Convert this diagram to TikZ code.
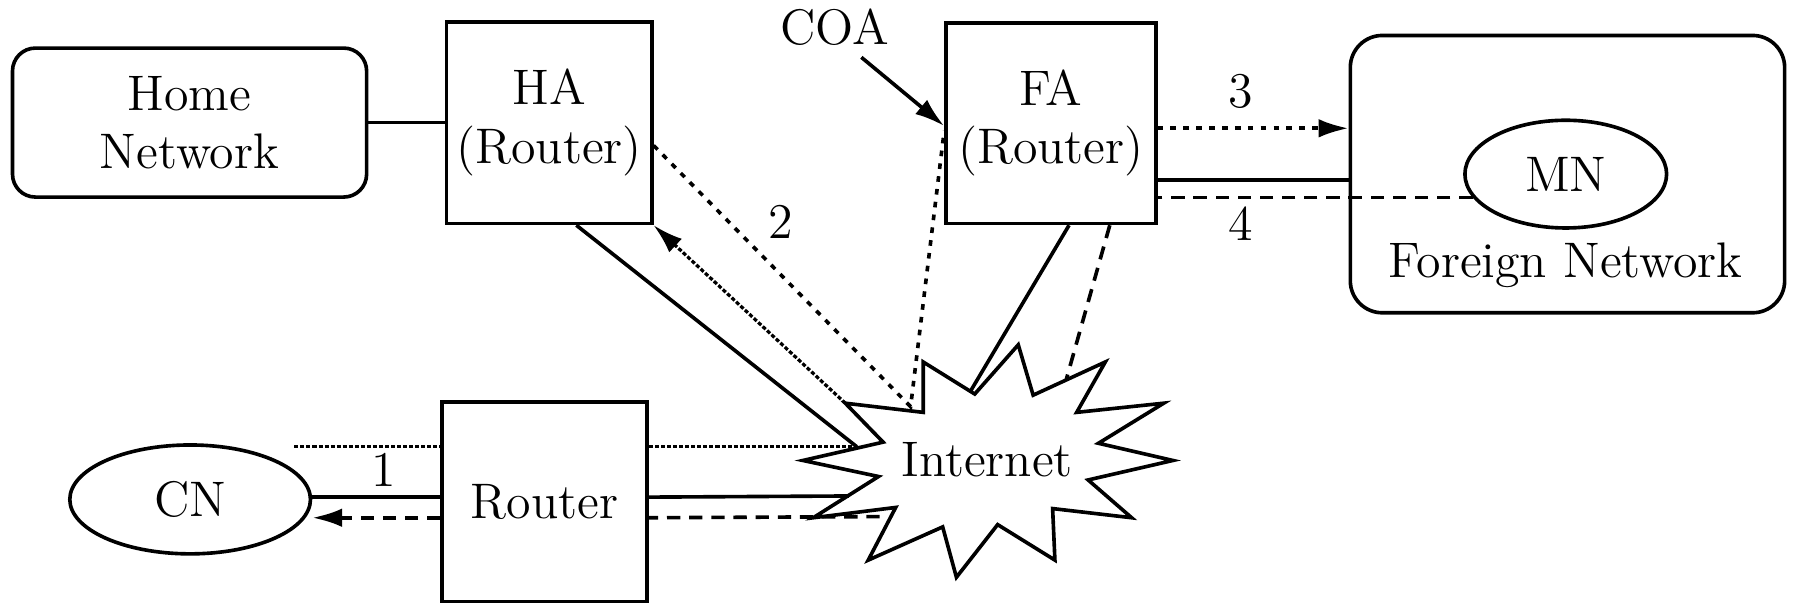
\documentclass[tikz,border=0pt]{standalone}
\usetikzlibrary{arrows.meta,shapes.geometric,calc}
\newcommand{\lblfont}{\fontsize{12.4}{14.5}\selectfont}
\begin{document}
\begin{tikzpicture}[x=0.01cm,y=-0.01cm,
  every node/.style={font=\lblfont},
  boxnode/.style={draw,line width=0.9pt,fill=white,inner sep=0pt,align=center},
  ovalnode/.style={draw,ellipse,line width=0.9pt,fill=white,inner sep=0pt},
  link/.style={line width=0.9pt},
  densedot/.style={line width=0.8pt,dash pattern=on 1pt off 0.5pt},
  sparsedot/.style={line width=0.9pt,dash pattern=on 1.4pt off 1.8pt},
  dashline/.style={line width=0.9pt,dash pattern=on 3.3pt off 2.2pt},
  tip/.style={-{Latex[length=7.4pt,width=4.6pt]}}
]
\useasboundingbox (0,0) rectangle (1568,535);
% boxes
\node[boxnode,rounded corners=0.2cm,minimum width=3.09cm,minimum height=1.30cm] (home) at (165.5,107) {Home\\Network};
\node[boxnode,minimum width=1.79cm,minimum height=1.76cm] (ha) at (479.5,107) {HA\\(Router)};
\node[boxnode,minimum width=1.83cm,minimum height=1.75cm] (fa) at (917.5,107.5) {FA\\(Router)};
\node[boxnode,rounded corners=0.28cm,minimum width=3.79cm,minimum height=2.42cm] (foreign) at (1368.5,152) {};
\node[ovalnode,minimum width=1.76cm,minimum height=0.94cm] (mn) at (1367,152) {MN};
\node[anchor=base,inner sep=0pt] (fnlabel) at (1367,242) {Foreign Network};
\node[boxnode,minimum width=1.79cm,minimum height=1.74cm] (router) at (475.5,438) {Router};
\node[ovalnode,minimum width=2.10cm,minimum height=0.95cm] (cn) at (166,436) {CN};
\node[anchor=base,inner sep=0pt] (coa) at (729,39) {COA};
% internet star
\draw[line width=0.9pt,fill=white] (701,402) -- (771,386) -- (738,352) -- (806,360) -- (806,316) -- (851,344)
  -- (889,301) -- (902,345) -- (965,316) -- (940,360) -- (1016,352) -- (959,387) -- (1024,402)
  -- (950,419) -- (988,452) -- (919,444) -- (921,489) -- (871,458) -- (835,504) -- (823,460)
  -- (758,489) -- (782,443) -- (710,452) -- (767,416) -- cycle;
\node (internet) at (862,401) {Internet};
% labels
\node[anchor=base] (n1) at (335,425) {1};
\node[anchor=base] (n2) at (682,208) {2};
\node[anchor=base] (n3) at (1083,94) {3};
\node[anchor=base] (n4) at (1083,210) {4};
% attachment points on the star
\coordinate (pA) at (748,390);
\coordinate (pB) at (738,352);
\coordinate (pC) at (795,355);
\coordinate (pD) at (847,342);
\coordinate (pE) at (931,331);
\coordinate (pF) at (741,433);
\coordinate (pG) at (768,451);
\coordinate (c1) at (257,390);
\coordinate (coaS) at (752,50);
% physical links
\draw[link] (home.east) -- (ha.west);
\draw[link] ($(ha.south west)!0.63!(ha.south east)$) -- (pA);
\draw[link] ($(fa.south west)!0.585!(fa.south east)$) -- (pD);
\draw[link] (fa.east |- 0,157) -- (foreign.west |- 0,157);
\draw[link] (cn.east |- 0,434) -- (router.west |- 0,434);
\draw[link] (router.east |- 0,434) -- (pF);
% COA pointer
\draw[link,tip] (coaS) -- (fa.west |- 0,110);
% path 1
\draw[densedot] (c1) -- (router.west |- c1);
\draw[densedot] (router.east |- c1) -- (pA);
\draw[densedot,tip] (pB) -- (ha.south east);
% path 2
\draw[sparsedot] (ha.east |- 0,127) -- (pC) -- (fa.west |- 0,114);
% path 3
\draw[sparsedot,tip] (fa.east |- 0,112) -- (foreign.west |- 0,112);
% path 4
\draw[dashline] (mn.194) -- (fa.east |- mn.194);
\draw[dashline] ($(fa.south west)!0.776!(fa.south east)$) -- (pE);
\draw[dashline] (pG) -- (router.east |- 0,452);
\draw[dashline,tip] (router.west |- 0,452) -- (cn.east |- 0,452);
\end{tikzpicture}
\end{document}
